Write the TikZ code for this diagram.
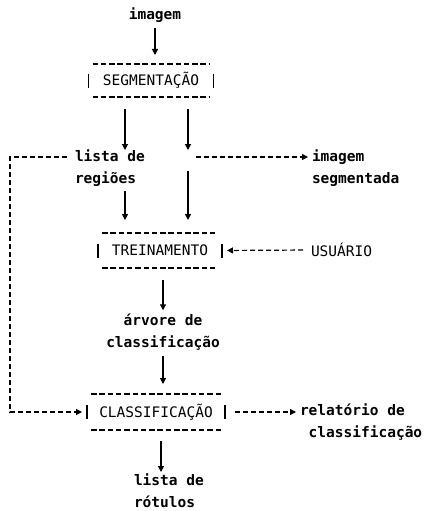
\documentclass[tikz,border=0pt]{standalone}
\usepackage{fontspec}
\setmonofont{DejaVu Sans Mono}
\usetikzlibrary{arrows.meta}
\begin{document}
\begin{tikzpicture}[x=1pt,y=-1pt,
  every node/.style={inner sep=0pt, outer sep=0pt},
  lbl/.style={font=\ttfamily\bfseries\fontsize{14.5}{22}\selectfont},
  uptext/.style={font=\ttfamily\fontsize{14.5}{22}\selectfont},
  proc/.style={uptext, draw=none},
  tip/.style={-{Triangle[width=6pt,length=6pt]}},
  vcon/.style={tip, line width=1.2pt},
  hcon/.style={tip, line width=1.2pt, dash pattern=on 5pt off 3pt},
  boxdash/.style={line width=1.2pt, dash pattern=on 5.5pt off 2.8pt},
  bar/.style={line width=1.3pt}]
\useasboundingbox (0,0) rectangle (423,511);

% nodes
\node[lbl] (img) at (155,15) {imagem};
\node[proc, minimum width=117pt, minimum height=33pt] (seg) at (151,80.5) {SEGMENTAÇÃO};
\node[lbl, align=left, anchor=west] (lst) at (75,168.5) {lista de\\regiões};
\node[lbl, align=left, anchor=west] (iseg) at (312,168) {imagem\\segmentada};
\node[proc, minimum width=116pt, minimum height=35pt] (tre) at (160,250.5) {TREINAMENTO};
\node[uptext, anchor=west] (usr) at (311,250) {USUÁRIO};
\node[lbl, align=center] (arv) at (163,332.5) {árvore de\\classificação};
\node[proc, minimum width=130pt, minimum height=36pt] (cls) at (156,412) {CLASSIFICAÇÃO};
\node[lbl, align=left, anchor=west] (rel) at (300,422) {relatório de\\\ classificação};
\node[lbl, align=left, anchor=west] (rot) at (134,490.5) {lista de\\rótulos};

% box decorations
\foreach \n in {seg,tre,cls}{
  \draw[boxdash] (\n.north west) -- (\n.north east);
  \draw[boxdash] (\n.south west) -- (\n.south east);
  \draw[bar] ([xshift=-4pt,yshift=7pt]\n.west) -- ([xshift=-4pt,yshift=-7pt]\n.west);
  \draw[bar] ([xshift=4pt,yshift=7pt]\n.east) -- ([xshift=4pt,yshift=-7pt]\n.east);
}

% helper coordinates
\coordinate (ls) at (125,150);
\coordinate (jn) at (188,157);
\coordinate (lc) at (10,157);
\coordinate (rotA) at (161,472);

% connectors
\draw[vcon, shorten <=6pt, shorten >=9pt] (img.south) -- (img.south |- seg.north);
\draw[vcon, shorten <=12pt] (seg.south -| ls) -- (ls);
\draw[vcon, shorten <=12pt, shorten >=7pt] (seg.south -| jn) -- (jn);
\draw[hcon, shorten <=8pt, shorten >=4pt] (jn) -- (iseg.west |- jn);
\draw[vcon, shorten <=14pt, shorten >=13pt] (jn) -- (jn |- tre.north);
\draw[vcon, shorten <=4pt, shorten >=13pt] (ls |- lst.south) -- (ls |- tre.north);
\draw[hcon, shorten <=8pt, shorten >=9pt] (usr.west) -- (tre.east);
\draw[vcon, shorten <=12pt, shorten >=4pt] (arv.north |- tre.south) -- (arv.north);
\draw[vcon, shorten <=5pt, shorten >=10pt] (arv.south) -- (arv.south |- cls.north);
\draw[vcon, shorten <=11pt] (rotA |- cls.south) -- (rotA);
\draw[hcon, shorten <=8pt, shorten >=9pt] (lst.west |- jn) -- (lc) -- (lc |- cls.west) -- (cls.west);
\draw[hcon, shorten <=14pt, shorten >=4pt] (cls.east) -- (rel.west |- cls.east);
\end{tikzpicture}
\end{document}
